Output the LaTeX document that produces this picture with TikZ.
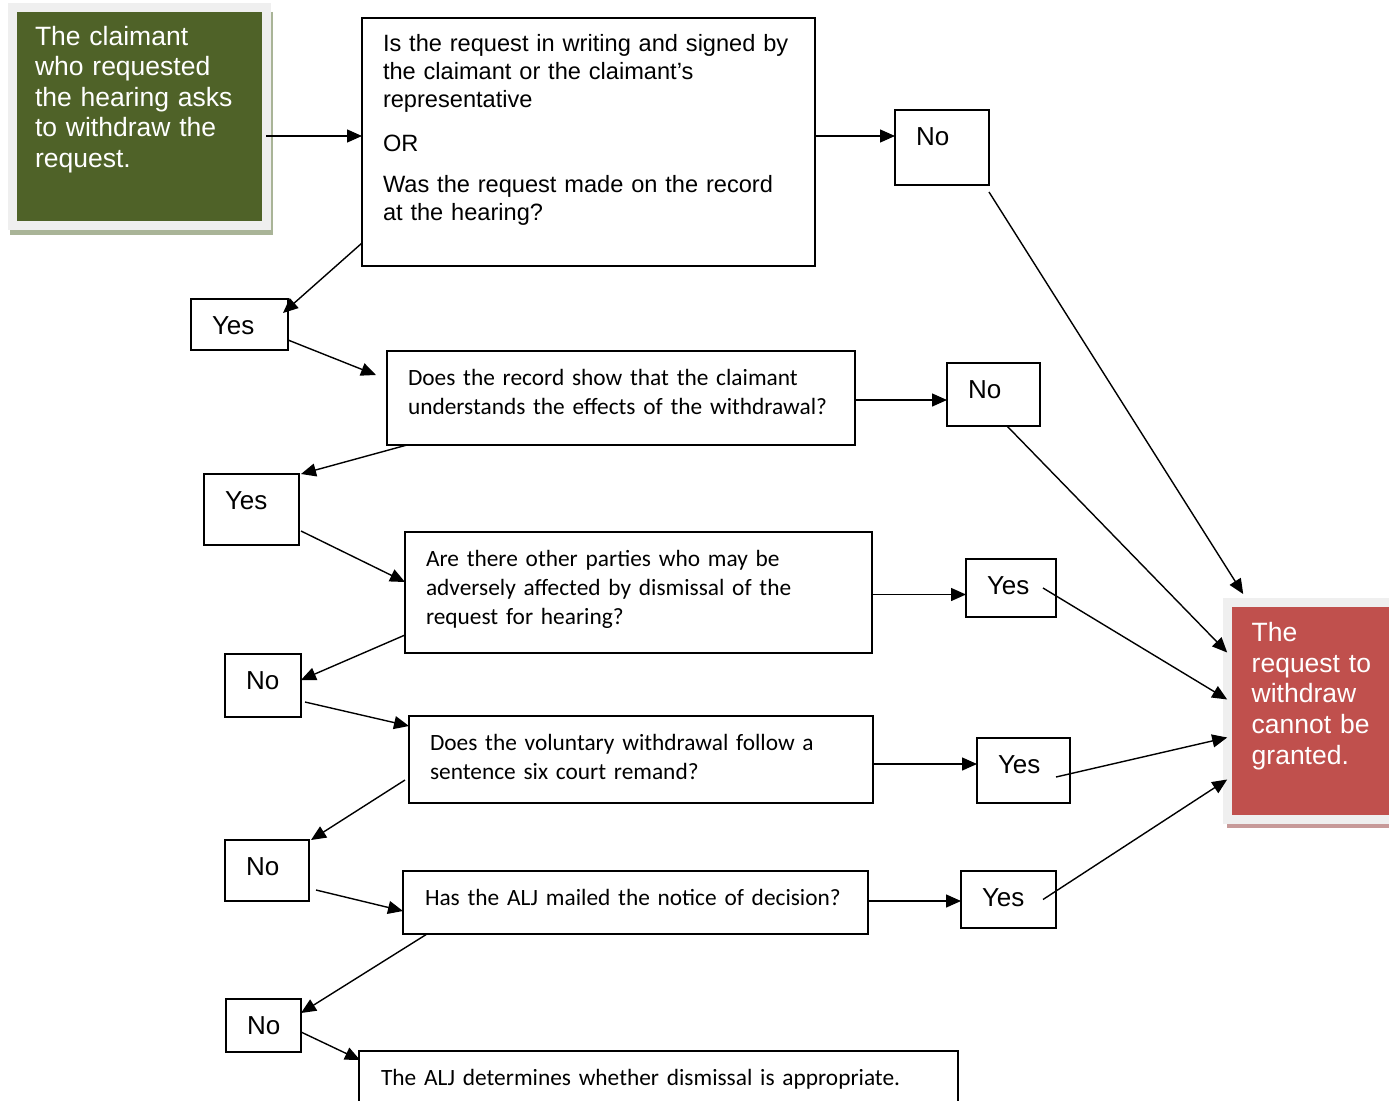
\documentclass[tikz,border=0pt]{standalone}
\usepackage{fontspec}
\setmainfont{Liberation Sans}
\newfontfamily\calibri{Carlito}
\usepackage{tikz}
\usetikzlibrary{arrows.meta,positioning,calc}
\definecolor{claimgreen}{HTML}{4F6228}
\definecolor{greenshade}{HTML}{A9B497}
\definecolor{refusered}{HTML}{C0504D}
\definecolor{redshade}{HTML}{C79A99}
\definecolor{framegray}{HTML}{EFEFEF}
\tikzset{
block/.style = {draw, line width=2pt, fill=white, rectangle, anchor=north west, inner xsep=21pt, inner ysep=0pt, outer sep=0pt, text height=34pt, align=left,
  execute at begin node={\hyphenpenalty=10000\rightskip=-60pt plus 1fil\relax}},
question/.style = {block, font=\calibri\fontsize{23.35}{29}\selectfont},
answer/.style = {block, text height=35pt, font=\fontsize{26}{30}\selectfont},
panel/.style = {draw=framegray, line width=9pt, rectangle, anchor=north west, inner ysep=0pt, outer sep=0pt, text=white, align=left, font=\fontsize{26.5}{30.6}\selectfont},
link/.style = {->, line width=1.4pt}
}
\begin{document}
\begin{tikzpicture}[x=1pt, y=-1pt, >={Triangle[length=15pt,width=13pt]}]
    \useasboundingbox (0,0) rectangle (1389,1100);
    \fill [greenshade] (10,12) rectangle (273,235);
    \fill [redshade] (1227,606) rectangle (1430,828);
    \node [panel, fill=claimgreen, inner xsep=23pt, text width=208pt, text height=37.6pt, text depth=180.8pt] (claim) at (12,7.4) {The claimant\\ who requested\\ the hearing asks\\ to withdraw the\\ request.};
    \node [panel, fill=refusered, inner xsep=24.5pt, text width=153.8pt, text height=39.2pt, text depth=177.8pt] (refuse) at (1227.2,602.5) {The\\ request to\\ withdraw\\ cannot be\\ granted.};

    \node [block, font=\fontsize{23.6}{27.7}\selectfont, text width=411pt, text depth=214.3pt, text height=33.7pt] (written) at (362,18) {Is the request in writing and signed by\\ the claimant or the claimant’s\\ representative\\[16.3pt] OR\\[14pt] Was the request made on the record\\ at the hearing?};
    \draw [link] ([yshift=-19.4pt]claim.east) coordinate (c1) -- (c1 -| written.west);
    \node [answer, text width=52pt, text depth=40pt] (no1) at (895,110) {No};
    \draw [link] ([yshift=6pt]written.east) coordinate (c2) -- (c2 -| no1.west);
    \node [answer, text width=55pt, text depth=16pt] (yes1) at (191,299) {Yes};
    \draw [link] ([yshift=23pt]written.south west) -- ([shift={(-5pt,-14pt)}]yes1.north east);

    \node [question, text width=426pt, text depth=60pt] (effects) at (387,351) {Does the record show that the claimant\\ understands the effects of the withdrawal?};
    \draw [link] ([yshift=10pt]yes1.south east) -- ([shift={(-11pt,-24pt)}]effects.north west);
    \node [answer, text width=51pt, text depth=28pt] (no2) at (947,363) {No};
    \draw [link] ([yshift=-2pt]effects.east) coordinate (c3) -- (c3 -| no2.west);
    \node [answer, text width=53pt, text depth=36pt] (yes2) at (204,474) {Yes};
    \draw [link] ([xshift=20pt]effects.south west) -- ([xshift=2pt]yes2.north east);

    \node [question, text width=425pt, text depth=87pt] (parties) at (405,532) {Are there other parties who may be\\ adversely affected by dismissal of the\\ request for hearing?};
    \draw [link] ([shift={(2pt,14pt)}]yes2.south east) -- ([yshift=-50pt]parties.north west);
    \node [answer, text width=48pt, text depth=23pt] (yes3) at (966,559) {Yes};
    \draw [link] ([yshift=-2pt]parties.east) coordinate (c4) -- (c4 -| yes3.west);
    \node [answer, text width=34pt, text depth=28pt] (no3) at (225,654) {No};
    \draw [link] ([yshift=18pt]parties.south west) -- ([yshift=-26pt]no3.north east);

    \node [question, text width=422pt, text depth=53pt] (remand) at (409,716) {Does the voluntary withdrawal follow a\\ sentence six court remand?};
    \draw [link] ([shift={(4pt,15pt)}]no3.south east) -- ([yshift=-10pt]remand.north west);
    \node [answer, text width=51pt, text depth=30pt] (yes4) at (977,738) {Yes};
    \draw [link] ([yshift=-4.5pt]remand.east) coordinate (c5) -- (c5 -| yes4.west);
    \node [answer, text width=42pt, text depth=26pt] (no4) at (225,840) {No};
    \draw [link] ([shift={(-4pt,23pt)}]remand.south west) -- ([xshift=2pt]no4.north east);

    \node [question, text width=421pt, text depth=29pt, inner xsep=22pt] (mailed) at (403,871) {Has the ALJ mailed the notice of decision?};
    \draw [link] ([shift={(7pt,11pt)}]no4.south east) -- ([yshift=-40pt]mailed.north west);
    \node [answer, text width=53pt, text depth=22pt] (yes5) at (961,871) {Yes};
    \draw [link] ([yshift=1.5pt]mailed.east) coordinate (c6) -- (c6 -| yes5.west);
    \node [answer, text width=33pt, text depth=18pt] (no5) at (226,999) {No};
    \draw [link] ([xshift=24pt]mailed.south west) -- ([yshift=-14pt]no5.north east);

    \node [question, text width=555pt, text depth=60pt, inner xsep=22pt] (dismiss) at (359,1051) {The ALJ determines whether dismissal is appropriate.};
    \draw [link] ([yshift=20pt]no5.south east) -- ([shift={(1pt,-9pt)}]dismiss.north west);

    \draw [link] ([yshift=-7pt]no1.south east) -- ([shift={(16pt,8.5pt)}]refuse.north west);
    \draw [link] ([xshift=-33pt]no2.south east) -- ([yshift=-50pt]refuse.north west);
    \draw [link] ([xshift=-13pt]yes3.east) -- ([yshift=-97pt]refuse.north west);
    \draw [link] ([shift={(-14pt,-6.5pt)}]yes4.east) -- ([yshift=-135pt]refuse.north west);
    \draw [link] ([xshift=-13pt]yes5.east) -- ([yshift=-177pt]refuse.north west);
\end{tikzpicture}
\end{document}
